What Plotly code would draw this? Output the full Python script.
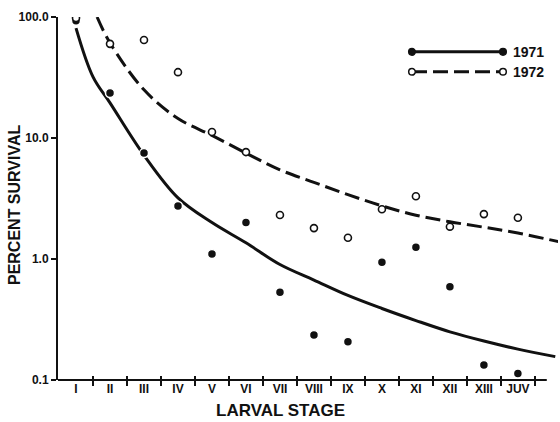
import plotly.graph_objects as go

# ---------------- data ----------------
stages = ["I", "II", "III", "IV", "V", "VI", "VII", "VIII", "IX", "X", "XI", "XII", "XIII", "JUV"]
stage_pos = list(range(len(stages)))
stage_bounds = [i + 0.5 for i in range(len(stages))]

obs_1971 = [93, 23.5, 7.5, 2.74, 1.1, 2.0, 0.53, 0.235, 0.207, 0.94, 1.25, 0.59, 0.133, 0.113]
obs_1972 = [98, 60, 64.6, 35, 11.2, 7.65, 2.31, 1.8, 1.5, 2.58, 3.3, 1.85, 2.35, 2.19]

fit_1971_x = [0, 0.5, 1, 2, 3, 4, 5, 6, 7, 8, 9, 10, 11, 12, 13, 14.1]
fit_1971_y = [81, 32, 19.5, 7.2, 3.2, 2.0, 1.36, 0.9, 0.67, 0.50, 0.39, 0.31, 0.25, 0.21, 0.18, 0.156]

fit_1972_x = [0.62, 1, 2, 3, 4, 5, 6, 7, 8, 9, 10, 11, 12, 13, 14.2]
fit_1972_y = [100, 61, 25, 14.5, 10.5, 7.5, 5.45, 4.3, 3.4, 2.75, 2.3, 2.03, 1.83, 1.64, 1.39]

y_tickvals = [0.1, 1, 10, 100]
y_ticktext = ["0.1", "1.0", "10.0", "100.0"]

series_names = ["1971", "1972"]

INK = "#111111"
FONT = "Liberation Sans, Arial, sans-serif"

fig = go.Figure()

# fitted curves
fig.add_trace(go.Scatter(x=fit_1971_x, y=fit_1971_y, mode="lines",
                         line=dict(color=INK, width=3, shape="spline", smoothing=1.0),
                         showlegend=False, hoverinfo="skip"))
fig.add_trace(go.Scatter(x=fit_1972_x, y=fit_1972_y, mode="lines",
                         line=dict(color=INK, width=3, shape="spline", smoothing=1.0, dash="15px,6px"),
                         showlegend=False, hoverinfo="skip"))

# observations
fig.add_trace(go.Scatter(x=stage_pos, y=obs_1971, mode="markers", name=series_names[0],
                         marker=dict(symbol="circle", size=9, color=INK,
                                     line=dict(color="white", width=1.5)),
                         showlegend=False))
fig.add_trace(go.Scatter(x=stage_pos, y=obs_1972, mode="markers", name=series_names[1],
                         marker=dict(symbol="circle", size=7, color="white",
                                     line=dict(color=INK, width=1.6)),
                         showlegend=False))

# helper traces so the overlay tick axes are drawn
for ax in ["x2", "x3"]:
    fig.add_trace(go.Scatter(x=[None], y=[None], xaxis=ax, yaxis="y",
                             showlegend=False, hoverinfo="skip"))

x_range = [-0.53, 14.18]

fig.update_layout(
    width=560, height=422,
    margin=dict(l=58, r=2, t=17, b=42),
    paper_bgcolor="white", plot_bgcolor="white",
    font=dict(family=FONT, color=INK),
    showlegend=False,
    xaxis=dict(range=x_range, tickmode="array", tickvals=stage_pos, ticktext=stages,
               ticks="", showline=False, showgrid=False, zeroline=False,
               tickfont=dict(family=FONT, size=12, color=INK, weight="bold")),
    xaxis2=dict(range=x_range, overlaying="x", anchor="y", side="bottom",
                tickmode="array", tickvals=stage_bounds, ticks="outside", ticklen=5,
                tickwidth=1.6, tickcolor=INK, showticklabels=False, showgrid=False,
                zeroline=False, showline=False),
    xaxis3=dict(range=x_range, overlaying="x", anchor="y", side="bottom",
                tickmode="array", tickvals=stage_bounds, ticks="inside", ticklen=4,
                tickwidth=1.6, tickcolor=INK, showticklabels=False, showgrid=False,
                zeroline=False, showline=False),
    yaxis=dict(type="log", range=[-1, 2], tickmode="array", tickvals=y_tickvals,
               ticktext=y_ticktext, ticks="outside", ticklen=5, tickwidth=2,
               tickcolor=INK, showline=True, linewidth=2, linecolor=INK,
               showgrid=False, zeroline=False,
               tickfont=dict(family=FONT, size=12, color=INK, weight="bold")),
)

# x-axis baseline (ends short of the curves' ends, as in the original)
fig.add_shape(type="line", xref="x", yref="paper", x0=x_range[0], x1=13.85, y0=0, y1=0,
              line=dict(color=INK, width=2))

# axis titles
fig.add_annotation(text="PERCENT SURVIVAL", xref="paper", yref="paper",
                   x=-0.088, y=0.482, xanchor="center", yanchor="middle",
                   textangle=-90, showarrow=False,
                   font=dict(family=FONT, size=16, color=INK, weight="bold"))
fig.add_annotation(text="LARVAL STAGE", xref="paper", yref="paper",
                   x=0.444, y=-0.085, xanchor="center", yanchor="middle", showarrow=False,
                   font=dict(family=FONT, size=17, color=INK, weight="bold"))

# custom legend (line sample with a marker at each end)
legend_rows = [(0.904, "solid", INK), (0.849, "dash", "white")]
for (ly, dash, fill), name in zip(legend_rows, series_names):
    fig.add_shape(type="line", xref="paper", yref="paper", x0=0.708, x1=0.89, y0=ly, y1=ly,
                  line=dict(color=INK, width=3, dash="solid" if dash == "solid" else "15px,6px"))
    for mx in (0.708, 0.89):
        fig.add_shape(type="circle", xref="paper", yref="paper", xsizemode="pixel",
                      ysizemode="pixel", xanchor=mx, yanchor=ly, x0=-3.3, x1=3.3, y0=-3.3, y1=3.3,
                      fillcolor=fill, line=dict(color=INK, width=1.5))
    fig.add_annotation(text=name, xref="paper", yref="paper", x=0.906, y=ly,
                       xanchor="left", yanchor="middle", showarrow=False,
                       font=dict(family=FONT, size=14, color=INK, weight="bold"))

fig.write_html("out.html", config={"displayModeBar": False},
               post_script="document.body.style.margin='0';")
